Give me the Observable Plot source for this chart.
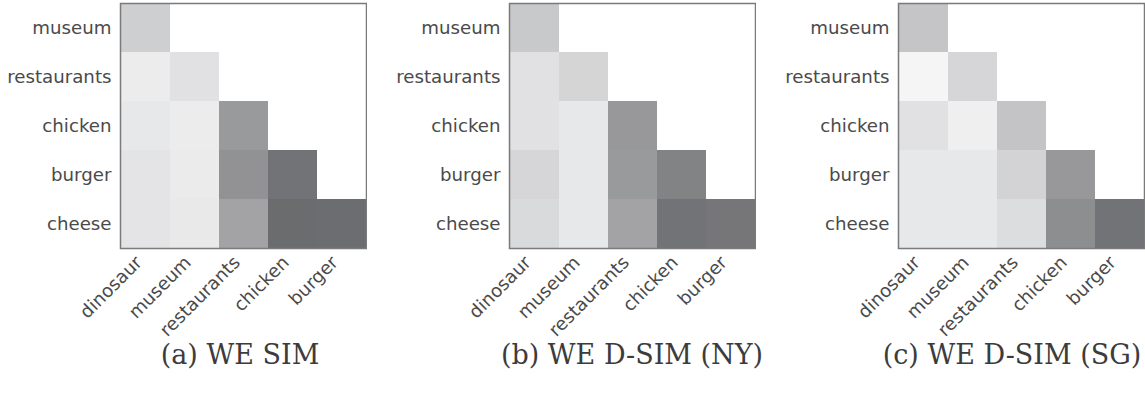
<!DOCTYPE html>
<html>
<head>
<meta charset="utf-8">
<script src="https://cdn.jsdelivr.net/npm/d3@7"></script>
<script src="https://cdn.jsdelivr.net/npm/@observablehq/plot@0.6"></script>
<style>
  html, body { margin: 0; padding: 0; background: #fff; }
  #wrap { position: relative; width: 1145px; height: 407px; overflow: hidden; }
  .panel { position: absolute; top: 0; }
  .cap { position: absolute; font-family: "DejaVu Serif", serif; font-size: 27px; color: #3c3c3c; white-space: nowrap; transform: translateX(-50%); top: 339px; }
</style>
</head>
<body>
<div id="wrap"></div>
<script>
const cols = ["dinosaur", "museum", "restaurants", "chicken", "burger"];
const rows = ["museum", "restaurants", "chicken", "burger", "cheese"];
const captions = ["(a) WE SIM", "(b) WE D-SIM (NY)", "(c) WE D-SIM (SG)"];

// lower-triangular similarity values, row i has i+1 entries
const valuesA = [
  [0.26],
  [0.07, 0.14],
  [0.10, 0.07, 0.60],
  [0.12, 0.08, 0.65, 0.85],
  [0.12, 0.09, 0.54, 0.90, 0.89]
];
const valuesB = [
  [0.30],
  [0.14, 0.22],
  [0.14, 0.10, 0.61],
  [0.21, 0.10, 0.60, 0.75],
  [0.19, 0.10, 0.54, 0.85, 0.83]
];
const valuesC = [
  [0.32],
  [0.01, 0.21],
  [0.14, 0.05, 0.33],
  [0.10, 0.10, 0.23, 0.61],
  [0.10, 0.10, 0.17, 0.68, 0.85]
];

const panels = [valuesA, valuesB, valuesC];
const offsets = [0, 389, 778];
const capCenters = [240, 632, 1012];
const wrap = document.getElementById("wrap");

panels.forEach((vals, p) => {
  const table = [];
  vals.forEach((r, i) => r.forEach((v, j) => table.push({row: rows[i], col: cols[j], v})));
  const chart = Plot.plot({
    width: 367,
    height: 348,
    marginLeft: 120,
    marginRight: 1,
    marginTop: 3,
    marginBottom: 100,
    style: {fontFamily: "DejaVu Sans", fontSize: "18.2px", color: "#4a4a4a", background: "transparent"},
    x: {domain: cols, padding: 0, label: null},
    y: {domain: rows, padding: 0, label: null},
    color: {type: "linear", domain: [0, 1], range: ["#f7f7f8", "#5b5c5f"], interpolate: "rgb"},
    marks: [
      Plot.cell(table, {x: "col", y: "row", fill: "v", inset: 0}),
      Plot.frame({stroke: "#7a7a7a", strokeWidth: 1.5}),
      Plot.axisX({tickSize: 0, tickPadding: 5, tickRotate: -45, dx: -7, dy: 6, label: null, fill: "#4a4a4a"}),
      Plot.axisY({tickSize: 0, tickPadding: 9, label: null, fill: "#4a4a4a"})
    ]
  });
  const div = document.createElement("div");
  div.className = "panel";
  div.style.left = offsets[p] + "px";
  div.appendChild(chart);
  wrap.appendChild(div);
  const cap = document.createElement("div");
  cap.className = "cap";
  cap.style.left = capCenters[p] + "px";
  cap.textContent = captions[p];
  wrap.appendChild(cap);
});
</script>
</body>
</html>
